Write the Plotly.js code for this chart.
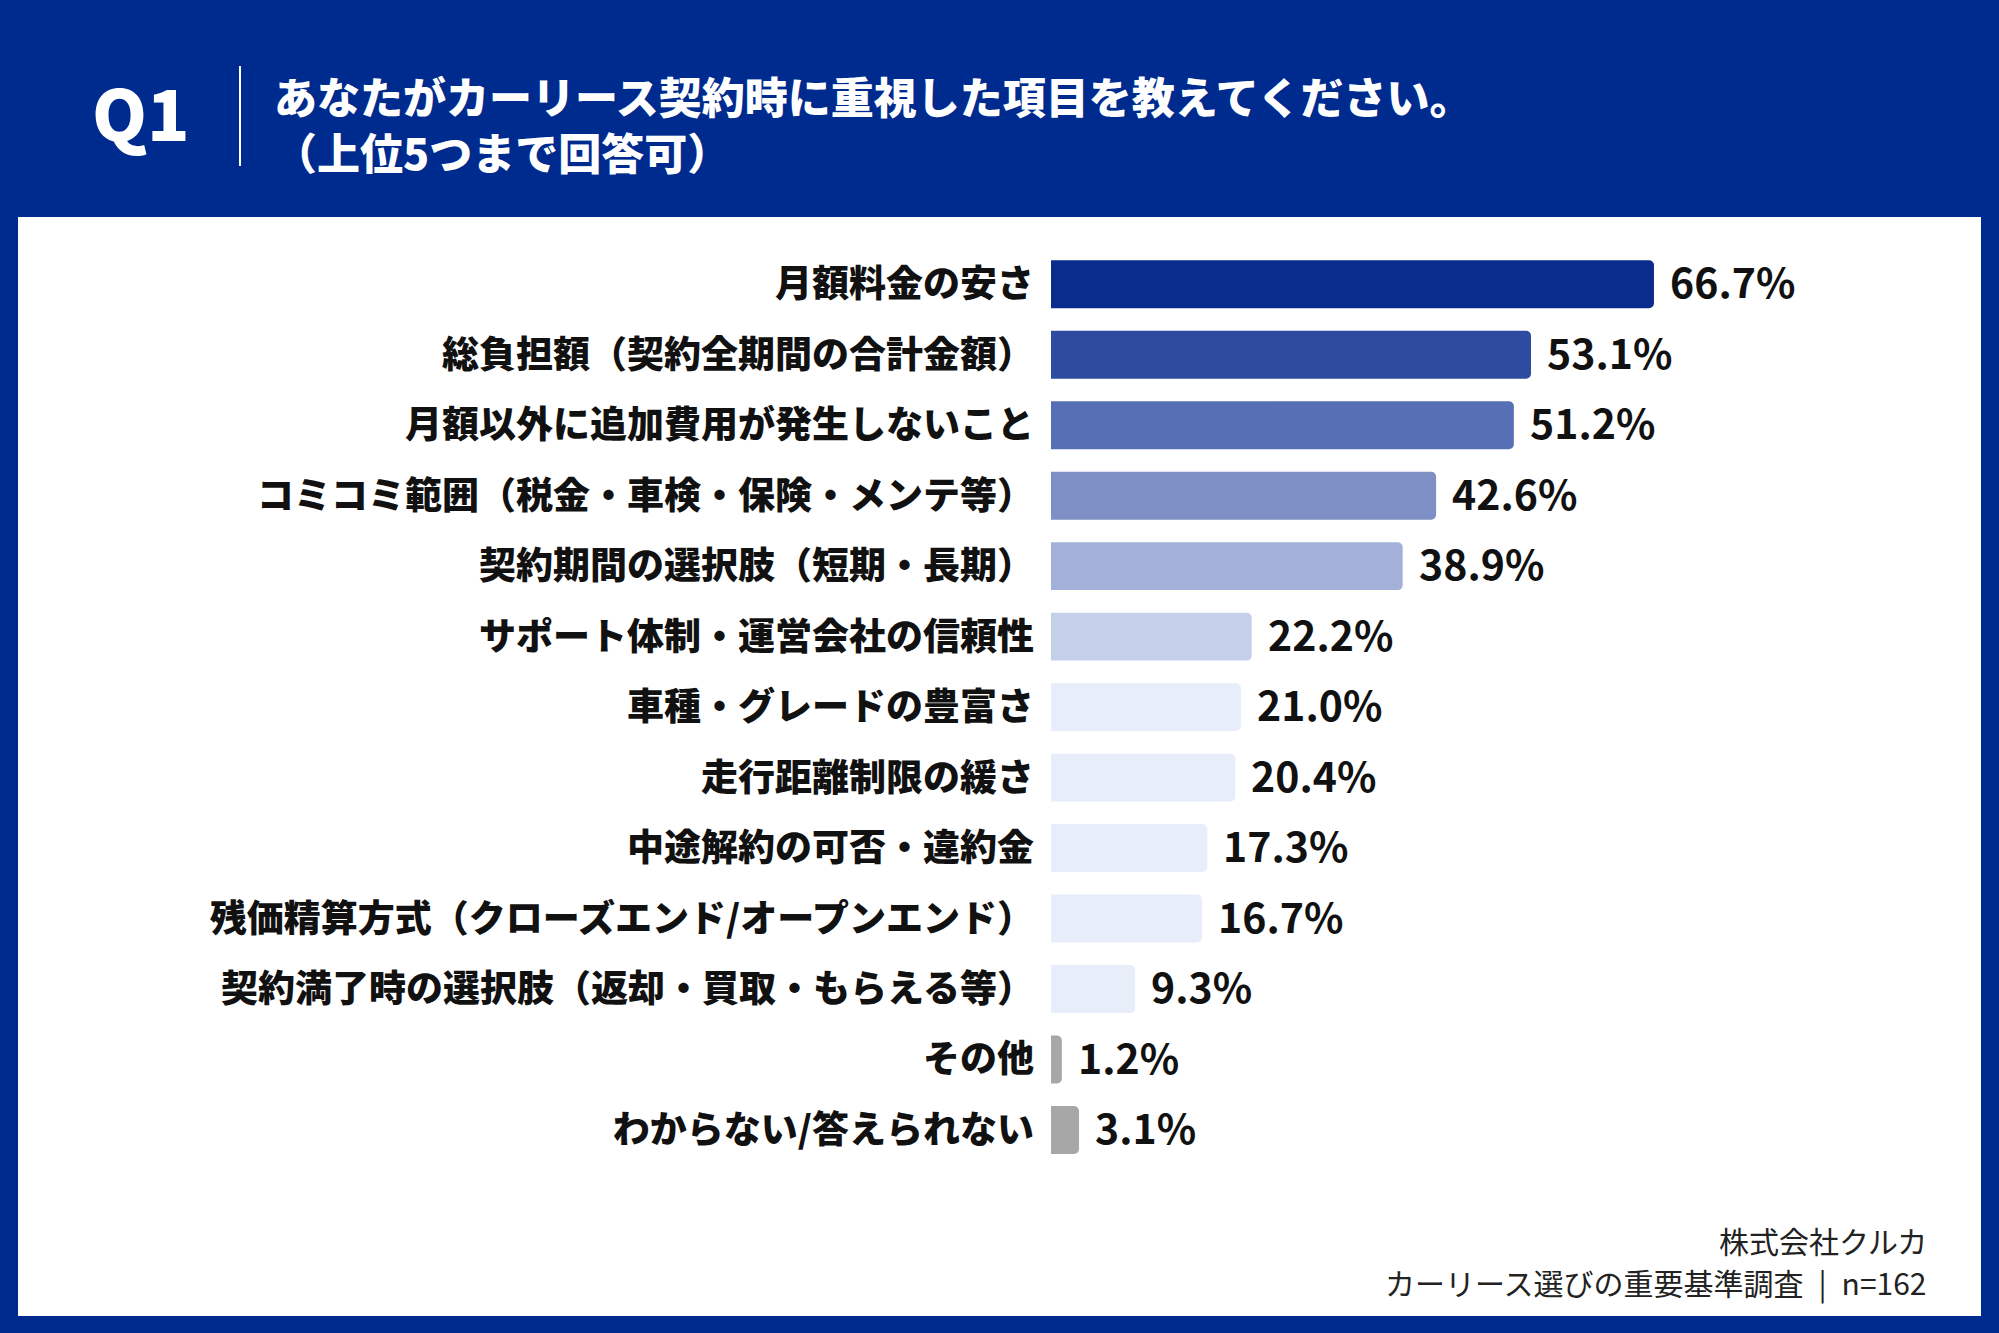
<!DOCTYPE html>
<html>
<head>
<meta charset="utf-8">
<script src="https://cdn.plot.ly/plotly-3.0.1.min.js"></script>
<style>
  html, body { margin: 0; padding: 0; background: #002b8e; }
  #chart { width: 1999px; height: 1333px; }
</style>
</head>
<body>
<div id="chart"></div>
<script>
// ---- data ----
const categories = [
  "月額料金の安さ",
  "総負担額（契約全期間の合計金額）",
  "月額以外に追加費用が発生しないこと",
  "コミコミ範囲（税金・車検・保険・メンテ等）",
  "契約期間の選択肢（短期・長期）",
  "サポート体制・運営会社の信頼性",
  "車種・グレードの豊富さ",
  "走行距離制限の緩さ",
  "中途解約の可否・違約金",
  "残価精算方式（クローズエンド/オープンエンド）",
  "契約満了時の選択肢（返却・買取・もらえる等）",
  "その他",
  "わからない/答えられない"
];
const values = [66.7, 53.1, 51.2, 42.6, 38.9, 22.2, 21.0, 20.4, 17.3, 16.7, 9.3, 1.2, 3.1];
const valueLabels = values.map(v => v.toFixed(1) + "%");

const titleLines = ["あなたがカーリース契約時に重視した項目を教えてください。", "（上位5つまで回答可）"];
const questionLabel = "Q1";
const sourceLines = ["株式会社クルカ", "カーリース選びの重要基準調査\u2002|\u2002n=162"];

// ---- styles ----
const barColors = [
  "#0a2c8c", "#2f4b9f", "#566fb5", "#7d8fc4", "#a2b0da", "#c4cfe9",
  "#e7eef9", "#e7eef9", "#e7eef9", "#e7eef9", "#e7eef9",
  "#a7a7a7", "#a7a7a7"
];
const HEADER_BLUE = "#002b8e";
const JP = "'Noto Sans CJK JP', 'Noto Sans', sans-serif";

const W = 1999, H = 1333;
const M = { l: 1051, r: 44, t: 249, b: 167 };
const PW = W - M.l - M.r, PH = H - M.t - M.b;
const px = x => (x - M.l) / PW;
const py = y => (H - M.b - y) / PH;

const trace = {
  type: "bar",
  orientation: "h",
  x: values,
  y: categories,
  marker: { color: barColors, cornerradius: 5, line: { width: 0 } },
  hoverinfo: "skip"
};

const valueAnnotations = values.map((v, i) => ({
  x: v, y: categories[i], xref: "x", yref: "y",
  text: valueLabels[i],
  showarrow: false, xanchor: "left", yanchor: "middle", xshift: 14, yshift: 4,
  font: { family: JP, size: 41, color: "#111111", weight: 700 }
}));

const titleFont = { family: JP, size: 43, color: "#ffffff", weight: 900 };

const layout = {
  width: W, height: H,
  margin: M,
  paper_bgcolor: HEADER_BLUE,
  plot_bgcolor: "rgba(0,0,0,0)",
  showlegend: false,
  bargap: 0.32,
  xaxis: {
    range: [0, 100], showgrid: false, zeroline: false, showticklabels: false,
    showline: false, ticks: "", fixedrange: true
  },
  yaxis: {
    type: "category", autorange: "reversed",
    showgrid: false, zeroline: false, showline: false, ticks: "",
    ticklabelstandoff: 16,
    tickfont: { family: JP, size: 37, color: "#111111", weight: 900 },
    fixedrange: true
  },
  shapes: [
    { type: "rect", xref: "paper", yref: "paper", layer: "below",
      x0: px(18), x1: px(1981), y0: py(1316), y1: py(217),
      fillcolor: "#ffffff", line: { width: 0 } },
    { type: "line", xref: "paper", yref: "paper",
      x0: px(240), x1: px(240), y0: py(166), y1: py(66),
      line: { color: "#ffffff", width: 2 } }
  ],
  annotations: [
    { xref: "paper", yref: "paper", x: px(90), y: py(111), xanchor: "left", yanchor: "middle",
      text: questionLabel, showarrow: false,
      font: { family: JP, size: 70, color: "#ffffff", weight: 900 } },
    { xref: "paper", yref: "paper", x: px(272), y: py(95), xanchor: "left", yanchor: "middle",
      text: titleLines[0], showarrow: false, font: titleFont },
    { xref: "paper", yref: "paper", x: px(272), y: py(151), xanchor: "left", yanchor: "middle",
      text: titleLines[1], showarrow: false, font: titleFont },
    { xref: "paper", yref: "paper", x: px(1929), y: py(1240), xanchor: "right", yanchor: "middle",
      text: sourceLines[0], showarrow: false,
      font: { family: JP, size: 30, color: "#222222", weight: 400 } },
    { xref: "paper", yref: "paper", x: px(1929), y: py(1282), xanchor: "right", yanchor: "middle",
      text: sourceLines[1], showarrow: false,
      font: { family: JP, size: 30, color: "#222222", weight: 400 } }
  ].concat(valueAnnotations)
};

Plotly.newPlot("chart", [trace], layout, { displayModeBar: false, staticPlot: true });
</script>
</body>
</html>
